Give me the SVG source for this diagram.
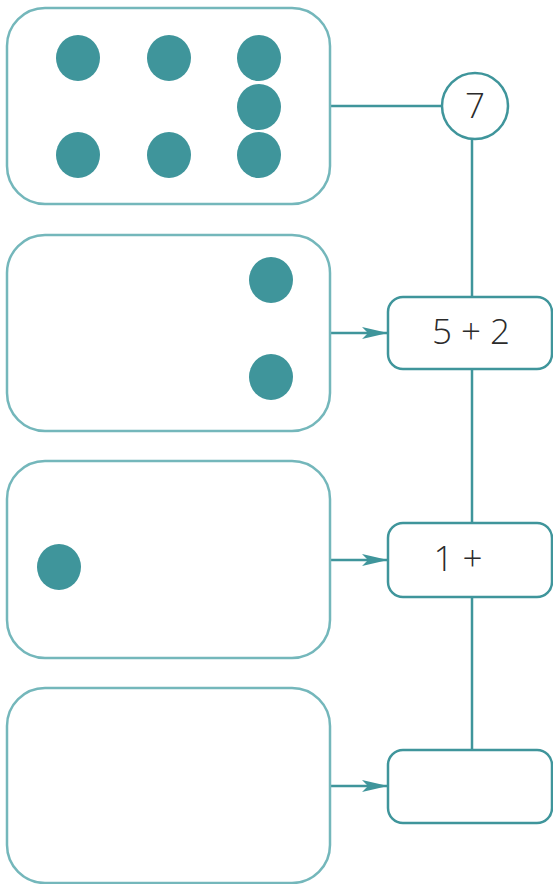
<svg xmlns="http://www.w3.org/2000/svg" width="553" height="884" viewBox="0 0 553 884">
<style>
.group{fill:#fff;stroke:#74b7bb;stroke-width:2.5}
.dot{fill:#3f959b}
.node{fill:#fff;stroke:#3f959b;stroke-width:2.5}
.conn{fill:none;stroke:#3f959b;stroke-width:2.5}
.lbl{font-family:"Open Sans","Noto Sans",sans-serif;font-size:35px;font-weight:300;fill:#2b2b2b;text-anchor:middle}
</style>
<defs>
<marker id="arr" viewBox="0 0 26 12" refX="26" refY="6" markerWidth="26" markerHeight="12" markerUnits="userSpaceOnUse" orient="auto">
<path d="M0,0 L26,6 L0,12 L6,6 Z" fill="#3f959b"/>
</marker>
</defs>
<g id="connectors">
<line class="conn" x1="330" y1="106" x2="442" y2="106"/>
<line class="conn" x1="472" y1="139" x2="472" y2="297"/>
<line class="conn" x1="472" y1="369" x2="472" y2="523"/>
<line class="conn" x1="472" y1="597" x2="472" y2="750"/>
<line class="conn" x1="330" y1="333" x2="388" y2="333" marker-end="url(#arr)"/>
<line class="conn" x1="330" y1="560" x2="388" y2="560" marker-end="url(#arr)"/>
<line class="conn" x1="330" y1="786" x2="388" y2="786" marker-end="url(#arr)"/>
</g>
<g id="group1">
<rect class="group" x="7" y="8" width="323" height="196" rx="38"/>
<ellipse class="dot" cx="78" cy="58" rx="22" ry="23"/>
<ellipse class="dot" cx="169" cy="58" rx="22" ry="23"/>
<ellipse class="dot" cx="259" cy="58" rx="22" ry="23"/>
<ellipse class="dot" cx="259" cy="107" rx="22" ry="23"/>
<ellipse class="dot" cx="78" cy="155" rx="22" ry="23"/>
<ellipse class="dot" cx="169" cy="155" rx="22" ry="23"/>
<ellipse class="dot" cx="259" cy="155" rx="22" ry="23"/>
</g>
<g id="group2">
<rect class="group" x="7" y="235" width="323" height="196" rx="38"/>
<ellipse class="dot" cx="271" cy="280" rx="22" ry="23"/>
<ellipse class="dot" cx="271" cy="377" rx="22" ry="23"/>
</g>
<g id="group3">
<rect class="group" x="7" y="461" width="323" height="197" rx="38"/>
<ellipse class="dot" cx="59" cy="567" rx="22" ry="23"/>
</g>
<g id="group4">
<rect class="group" x="7" y="688" width="323" height="195" rx="38"/>
</g>
<g id="total">
<circle class="node" cx="475" cy="106" r="33"/>
<text class="lbl" x="475" y="118">7</text>
</g>
<g id="sum1">
<rect class="node" x="388" y="297" width="164" height="72" rx="15"/>
<text class="lbl" x="471" y="344">5 + 2</text>
</g>
<g id="sum2">
<rect class="node" x="388" y="523" width="164" height="74" rx="15"/>
<text class="lbl" x="458" y="571">1 +</text>
</g>
<g id="sum3">
<rect class="node" x="388" y="750" width="164" height="73" rx="15"/>
</g>
</svg>
